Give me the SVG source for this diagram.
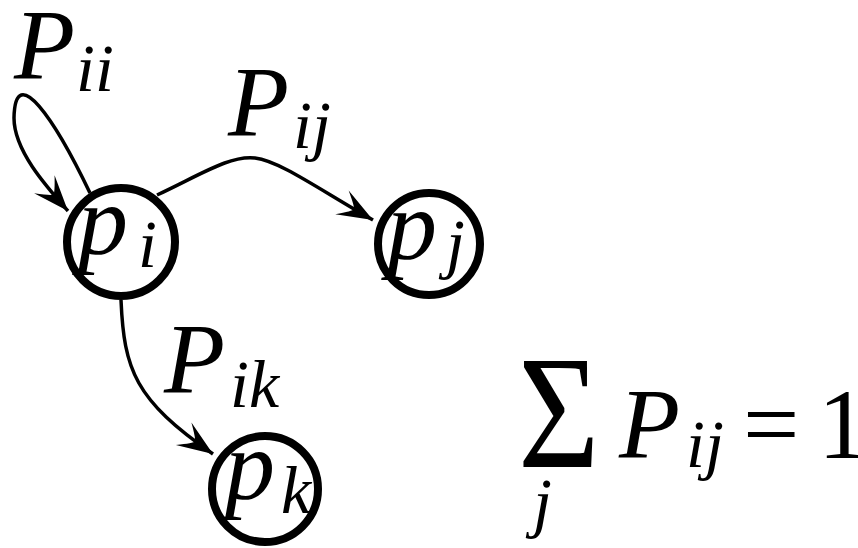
<svg xmlns="http://www.w3.org/2000/svg" width="858" height="548" viewBox="0 0 858 548">
<defs>
<marker id="arr" markerUnits="userSpaceOnUse" markerWidth="42" markerHeight="42" viewBox="-36 -16 40 32" refX="0" refY="0" orient="auto">
<path d="M0,0 L-34,-13 Q-21,-2 -21,0 Q-21,2 -34,13 Z" fill="#000"/>
</marker>
</defs>
<style>
.node{fill:#fff;stroke:#000;stroke-width:8}
.edge{fill:none;stroke:#000;stroke-width:3.5;marker-end:url(#arr)}
</style>
<g id="connectors">
<path class="edge" d="M90,193 C55,120 15,60 14,118 C14,150 45,185 68,211"/>
<path class="edge" d="M157,195 C200,175 230,155 255,158 C280,161 320,190 373,220"/>
<path class="edge" d="M121,300 C124,370 135,400 213,454"/>
</g>
<g id="node-pi">
<circle class="node" cx="121" cy="242" r="54"/>
<text transform="translate(78 254) scale(1.42857)" font-family="Liberation Serif" font-style="italic" font-size="70">p</text>
<text x="138" y="267" font-family="Liberation Serif" font-style="italic" font-size="68">i</text>
</g>
<g id="node-pj">
<circle class="node" cx="429" cy="244" r="51"/>
<text transform="translate(387 259) scale(1.42857)" font-family="Liberation Serif" font-style="italic" font-size="70">p</text>
<text x="446" y="266" font-family="Liberation Serif" font-style="italic" font-size="68">j</text>
</g>
<g id="node-pk">
<circle class="node" cx="265" cy="489" r="53"/>
<text transform="translate(225 499) scale(1.42857)" font-family="Liberation Serif" font-style="italic" font-size="70">p</text>
<text x="281" y="513" font-family="Liberation Serif" font-style="italic" font-size="68">k</text>
</g>
<g id="label-pii">
<text transform="translate(14 78) scale(1.42857)" font-family="Liberation Serif" font-style="italic" font-size="70">P</text>
<text x="76" y="91" font-family="Liberation Serif" font-style="italic" font-size="68">ii</text>
</g>
<g id="label-pij">
<text transform="translate(228 135) scale(1.42857)" font-family="Liberation Serif" font-style="italic" font-size="70">P</text>
<text x="293" y="148" font-family="Liberation Serif" font-style="italic" font-size="68">ij</text>
</g>
<g id="label-pik">
<text transform="translate(164 392) scale(1.42857)" font-family="Liberation Serif" font-style="italic" font-size="70">P</text>
<text x="230" y="407" font-family="Liberation Serif" font-style="italic" font-size="68">ik</text>
</g>
<g id="formula">
<text transform="translate(518 467) scale(2.0 2.314)" font-family="Liberation Serif" font-size="70">Σ</text>
<text x="533" y="525" font-family="Liberation Serif" font-style="italic" font-size="68">j</text>
<text transform="translate(619 457) scale(1.42857)" font-family="Liberation Serif" font-style="italic" font-size="70">P</text>
<text x="686" y="467" font-family="Liberation Serif" font-style="italic" font-size="68">ij</text>
<text x="743" y="458" font-family="Liberation Serif" font-size="100">=</text>
<text x="818" y="458" font-family="Liberation Serif" font-size="100">1</text>
</g>
</svg>
